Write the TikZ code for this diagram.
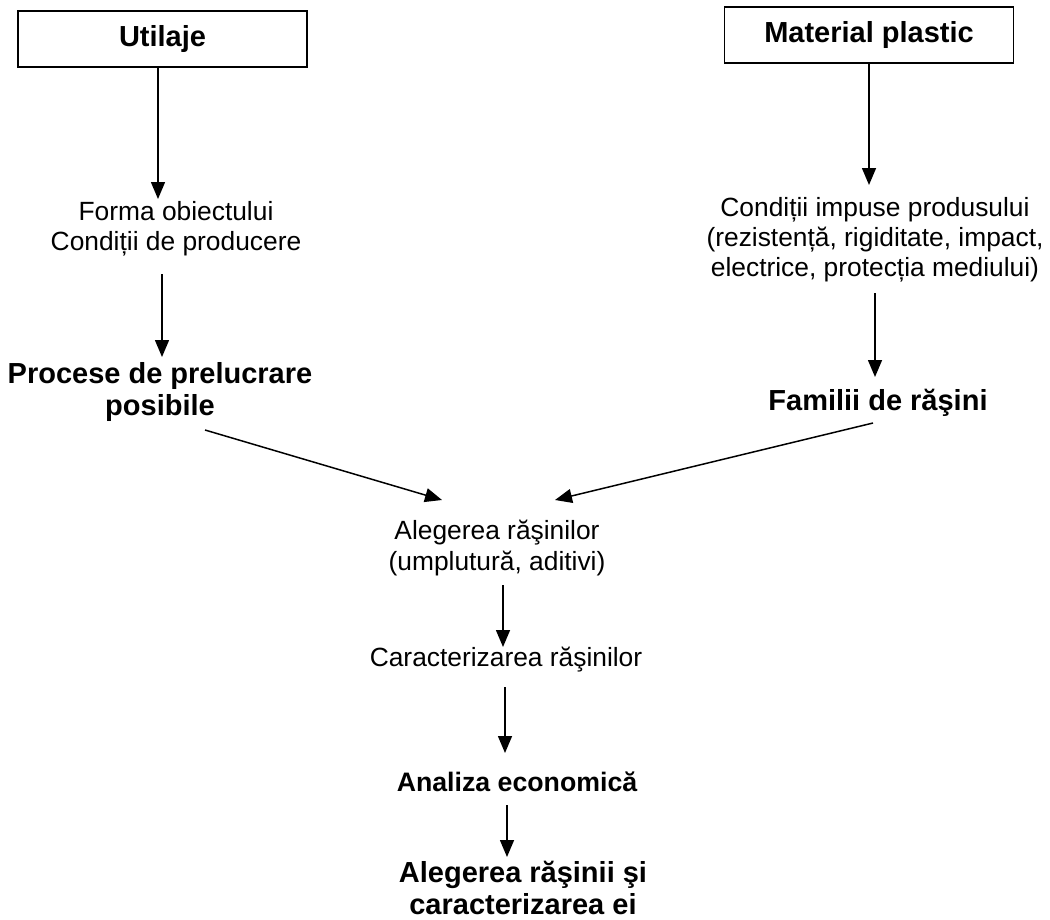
\documentclass[tikz,border=0pt]{standalone}
\usepackage{fontspec}
\setmainfont{Liberation Sans}
\usetikzlibrary{arrows.meta, positioning, calc}
\tikzset{
  BoxStyle/.style={draw, line width=1pt, minimum width=5.78cm, minimum height=1.12cm,
                   font=\fontsize{16.5}{18}\selectfont\bfseries},
  PlainText/.style={align=center, inner sep=0pt, font=\fontsize{15}{17.1}\selectfont},
  BigText/.style={align=center, inner sep=0pt, font=\fontsize{16.5}{18}\selectfont\bfseries},
  Flow/.style={line width=0.85pt, -{Triangle[length=0.34cm, width=0.28cm]}},
}

\begin{document}
\begin{tikzpicture}[x=0.02cm, y=-0.02cm]
\useasboundingbox (0,0) rectangle (1050,919);

% inputs
\node[BoxStyle] (utilaje) at (162.5,39) {Utilaje};
\node[BoxStyle] (material) at (869,35) {Material plastic};

\node[PlainText] (forma) at (176,229) {Forma obiectului\\Condiții de producere};
\node[PlainText] (conditii) at (875,240) {Condiții impuse produsului\\(rezistență, rigiditate, impact,\\electrice, protecția mediului)};

\node[BigText] (procese) at (160,392) {Procese de prelucrare\\posibile};
\node[BigText] (familii) at (878,403) {Familii de răşini};

% selection chain
\node[PlainText] (alegerea) at (497,548) {Alegerea răşinilor\\(umplutură, aditivi)};
\node[PlainText] (caract) at (506,660) {Caracterizarea răşinilor};
\node[BigText, font=\fontsize{15.2}{17}\selectfont\bfseries] (analiza) at (517,782) {Analiza economică};
\node[BigText] (finala) at (523,888) {Alegerea răşinii şi\\caracterizarea ei};

\draw[Flow] ([shift={(-4.5,28)}]utilaje.center) -- ([shift={(-18,-30)}]forma.center);
\draw[Flow] ([shift={(-14,45)}]forma.center) -- ([shift={(2,-35)}]procese.center);
\draw[Flow] ([shift={(0,28)}]material.center) -- ([shift={(-6,-55)}]conditii.center);
\draw[Flow] ([shift={(0,53)}]conditii.center) -- ([shift={(-3,-26)}]familii.center);

\draw[Flow] ([shift={(45,38)}]procese.center) -- ([shift={(-55,-48)}]alegerea.center);
\draw[Flow] ([shift={(-5,20)}]familii.center) -- ([shift={(58,-48)}]alegerea.center);

\draw[Flow] ([shift={(6,37)}]alegerea.center) -- ([shift={(-3,-13)}]caract.center);
\draw[Flow] ([shift={(-1,27)}]caract.center) -- ([shift={(-12,-29)}]analiza.center);
\draw[Flow] ([shift={(-10,23)}]analiza.center) -- ([shift={(-16,-31)}]finala.center);%
\end{tikzpicture}
\end{document}
